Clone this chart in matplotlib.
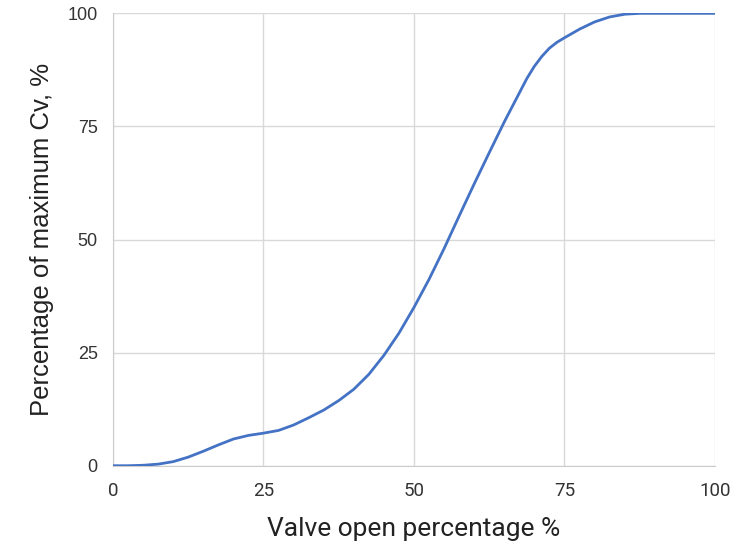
import matplotlib
matplotlib.use("Agg")
import matplotlib.pyplot as plt

valve_open = [0, 2.5, 5, 7.5, 10, 12.5, 15, 17.5, 20, 22.5, 25, 27.5, 30, 32.5, 35,
              37.5, 40, 42.5, 45, 47.5, 50, 52.5, 55, 57.5, 60, 62.5, 65, 67.5, 68.75, 70,
              71.25, 72.5, 73.75, 75, 77.5, 80, 82.5, 85, 87.5, 90, 95, 100]
cv_percent = [0, 0.0, 0.1, 0.35, 0.9, 1.9, 3.2, 4.6, 5.9, 6.7, 7.2, 7.8, 9.0, 10.6, 12.3,
              14.4, 16.9, 20.2, 24.4, 29.3, 35.0, 41.2, 48.0, 55.2, 62.3, 69.2, 76.0, 82.4, 85.6, 88.3,
              90.5, 92.3, 93.6, 94.6, 96.5, 98.1, 99.2, 99.8, 100, 100, 100, 100]
ticks = [0, 25, 50, 75, 100]
tick_labels = ["0", "25", "50", "75", "100"]

plt.rcParams['font.family'] = ['Roboto', 'DejaVu Sans']

fig = plt.figure(figsize=(7.4, 5.44), dpi=100)
ax = fig.add_axes([0.1527, 0.1439, 0.8135, 0.8316])

ax.plot(valve_open, cv_percent, color="#4472C4", linewidth=2.0,
        solid_capstyle="round", solid_joinstyle="round", zorder=3)

ax.set_xlim(0, 100)
ax.set_ylim(0, 100)
ax.set_xticks(ticks)
ax.set_yticks(ticks)
ax.set_xticklabels(tick_labels, fontsize=13.5, color="#333333", family=['Roboto', 'DejaVu Sans'])
ax.set_yticklabels(tick_labels, fontsize=13, color="#333333", family=['Liberation Sans', 'DejaVu Sans'])
ax.grid(True, color="#d9d9d9", linewidth=1.0)
ax.set_axisbelow(True)
for s in ax.spines.values():
    s.set_visible(False)
ax.spines['left'].set_visible(True)
ax.spines['bottom'].set_visible(True)
ax.spines['left'].set_color("#cccccc")
ax.spines['bottom'].set_color("#cccccc")
ax.tick_params(length=0)
ax.tick_params(axis='y', pad=11)
ax.tick_params(axis='x', pad=12)

ax.set_xlabel("Valve open percentage %", fontsize=19, color="#222222", labelpad=12,
              family=['Roboto', 'DejaVu Sans'])
ax.set_ylabel("Percentage of maximum Cv, %", fontsize=18.5, color="#222222", labelpad=10,
              family=['Liberation Sans', 'DejaVu Sans'])

fig.savefig("out.png", dpi=100)
